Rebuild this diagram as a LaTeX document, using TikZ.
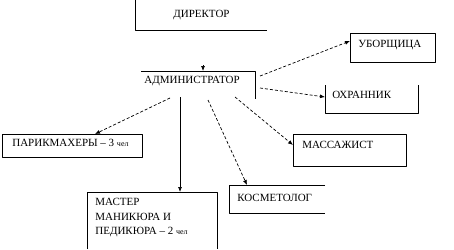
\documentclass[tikz,border=0pt]{standalone}
\usepackage{fontspec}
\setmainfont{Liberation Serif}
\usetikzlibrary{arrows.meta}
\newcommand{\chel}{{\fontsize{8}{10}\selectfont чел}}
\begin{document}
\begin{tikzpicture}[x=1pt, y=-1pt, line join=round, line width=0.7pt, >={Latex[length=5pt,width=4pt]},
    lbl/.style={anchor=west, inner sep=0pt, font=\fontsize{11}{14.5}\selectfont},
    link/.style={->, dash pattern=on 3pt off 2pt}]
    \useasboundingbox (0,0) rectangle (454,249);
    % box outlines (some are open in the original)
    \draw (135,0) -- (135,30) -- (267,30);
    \draw (141,71) -- (255,71) -- (255,99);
    \draw (350,33) rectangle (435,62);
    \draw (325,85) -- (325,113) -- (418,113) -- (418,85);
    \draw (2,134) rectangle (142,157);
    \draw (293,134) rectangle (406,166);
    \draw (325,185) -- (229,185) -- (229,213) -- (325,213);
    \draw (87,249) -- (87,192) -- (217,192) -- (217,249);
    % texts
    \node[lbl] (dir) at (173,15) {ДИРЕКТОР};
    \node[lbl] (adm) at (144,81) {АДМИНИСТРАТОР};
    \node[lbl] (ubor) at (358,45) {УБОРЩИЦА};
    \node[lbl] (ohr) at (332,95) {ОХРАННИК};
    \node[lbl] (parik) at (12,143) {ПАРИКМАХЕРЫ – 3 \chel};
    \node[lbl] (mass) at (302,145) {МАССАЖИСТ};
    \node[lbl] (kosm) at (237,198) {КОСМЕТОЛОГ};
    \node[lbl, align=left] (mast) at (95,218) {МАСТЕР\\МАНИКЮРА И\\ПЕДИКЮРА – 2 \chel};
    % connector ends
    \coordinate (admtop) at (203,71);
    \coordinate (a1) at (260,76);
    \coordinate (a2) at (260,88);
    \coordinate (a3) at (170,98);
    \coordinate (a4) at (180,97);
    \coordinate (a5) at (208,100);
    \coordinate (a6) at (235,97);
    \coordinate (t1) at (350,41);
    \coordinate (t2) at (325,97);
    \coordinate (t3) at (95,134);
    \coordinate (t4) at (180,192);
    \coordinate (t5) at (247,185);
    \coordinate (t6) at (293,145);
    % connectors
    \draw[->] ([yshift=6pt]admtop) -- (admtop);
    \draw[link] (a1) -- (t1);
    \draw[link] (a2) -- (t2);
    \draw[link] (a3) -- (t3);
    \draw[->] (a4) -- (t4);
    \draw[link] (a5) -- (t5);
    \draw[link] (a6) -- (t6);
\end{tikzpicture}
\end{document}
